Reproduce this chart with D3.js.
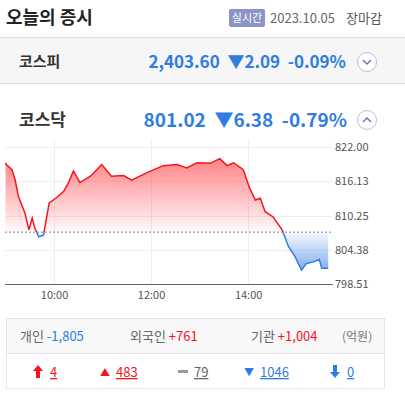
<!DOCTYPE html>
<html><head><meta charset="utf-8">
<script src="https://cdn.jsdelivr.net/npm/d3@7"></script>
<style>
body{margin:0;background:#fff;font-family:"Noto Sans CJK KR","Noto Sans",sans-serif;}
svg text{font-family:"Noto Sans CJK KR","Noto Sans",sans-serif;}
</style></head>
<body><svg id="c" width="405" height="403"></svg>
<script>
// KOSDAQ 2023.10.05 intraday
const times = ["09:00","09:01","09:08","09:12","09:16","09:24","09:29","09:33","09:36","09:41","09:47","09:54","10:03","10:12","10:18","10:24","10:32","10:45","10:59","11:11","11:26","11:36","11:55","12:15","12:32","12:44","12:57","13:13","13:25","13:34","13:42","13:54","14:02","14:09","14:15","14:21","14:31","14:42","14:50","14:58","15:06","15:12","15:21","15:28","15:31","15:39"];
const values = [819.3,819.0,818.1,816.3,813.5,810.7,807.8,809.8,808.2,806.6,806.9,812.4,813.3,814.4,815.9,817.9,815.9,817.0,819.0,817.0,817.1,816.3,817.6,818.8,819.0,818.4,819.3,819.2,820.0,818.8,819.3,818.1,814.9,812.9,813.2,810.9,810.0,807.8,804.9,803.2,800.9,802.0,802.3,802.7,801.2,801.2];
const prevClose = 807.40;
const yTicks = [822.00,816.13,810.25,804.38,798.51];
const xTicks = ["10:00","12:00","14:00"];
const investors = ["개인","외국인","기관"];
const investorVals = ["-1,805","+761","+1,004"];
const breadthVals = ["4","483","79","1046","0"];

const svg = d3.select("#c");
const parse = d3.timeParse("%H:%M");
const x = d3.scaleTime().domain([parse("09:00"), parse("15:40")]).range([5.5, 329]);
const y = d3.scaleLinear().domain([798.51, 822]).range([284, 147]);
const red = "#f5141e", blue = "#2f7de1";

// header
svg.append("text").attr("x",6).attr("y",24).attr("font-size",18).attr("font-weight",700).attr("fill","#222").text("오늘의 증시");
svg.append("rect").attr("x",229).attr("y",9).attr("width",36).attr("height",18).attr("rx",2).attr("fill","#8c93c9");
svg.append("text").attr("x",247).attr("y",22).attr("text-anchor","middle").attr("font-size",11).attr("fill","#fff").text("실시간");
svg.append("text").attr("x",270).attr("y",23).attr("font-size",13).attr("fill","#666").text("2023.10.05");
svg.append("text").attr("x",346).attr("y",23).attr("font-size",13).attr("fill","#555").text("장마감");
svg.append("line").attr("x1",0).attr("x2",405).attr("y1",37.5).attr("y2",37.5).attr("stroke","#ddd");

// KOSPI row
svg.append("rect").attr("x",0).attr("y",38).attr("width",405).attr("height",45).attr("fill","#f6f6f6");
svg.append("line").attr("x1",0).attr("x2",405).attr("y1",83.5).attr("y2",83.5).attr("stroke","#ddd");
svg.append("text").attr("x",19).attr("y",67).attr("font-size",15).attr("font-weight",700).attr("fill","#333").text("코스피");
svg.append("text").attr("x",346).attr("y",68).attr("text-anchor","end").attr("font-size",17).attr("font-weight",700).attr("fill",blue)
  .text("2,403.60  ▼2.09  -0.09%").attr("xml:space","preserve").style("white-space","pre");
svg.append("circle").attr("cx",367).attr("cy",62).attr("r",9.5).attr("fill","#fff").attr("stroke","#b8bfe0");
svg.append("path").attr("d","M363 60 L367 64 L371 60").attr("fill","none").attr("stroke","#6a74b8").attr("stroke-width",1.5);

// KOSDAQ row
svg.append("text").attr("x",19).attr("y",126).attr("font-size",17).attr("font-weight",700).attr("fill","#333").text("코스닥");
svg.append("text").attr("x",347).attr("y",127).attr("text-anchor","end").attr("font-size",19).attr("font-weight",700).attr("fill",blue)
  .text("801.02  ▼6.38  -0.79%").style("white-space","pre");
svg.append("circle").attr("cx",367).attr("cy",120).attr("r",9.5).attr("fill","#fff").attr("stroke","#b8bfe0");
svg.append("path").attr("d","M363 122 L367 118 L371 122").attr("fill","none").attr("stroke","#6a74b8").attr("stroke-width",1.5);

// grid
const g = svg.append("g");
g.selectAll(".hg").data(yTicks).join("line").attr("x1",5).attr("x2",332).attr("y1",d=>Math.round(y(d))+0.5).attr("y2",d=>Math.round(y(d))+0.5).attr("stroke","#eee");
g.selectAll(".vg").data(xTicks).join("line").attr("x1",d=>Math.round(x(parse(d)))+0.5).attr("x2",d=>Math.round(x(parse(d)))+0.5).attr("y1",140).attr("y2",284).attr("stroke","#eee");

const defs = svg.append("defs");
const gr = defs.append("linearGradient").attr("id","gr").attr("x1",0).attr("x2",0).attr("y1",0).attr("y2",1).attr("gradientUnits","userSpaceOnUse")
  .attr("y1",y(820)).attr("y2",y(prevClose));
gr.append("stop").attr("offset",0).attr("stop-color","#ff5a5f").attr("stop-opacity",0.75);
gr.append("stop").attr("offset",1).attr("stop-color","#ff5a5f").attr("stop-opacity",0.03);
const gb = defs.append("linearGradient").attr("id","gb").attr("x1",0).attr("x2",0).attr("gradientUnits","userSpaceOnUse")
  .attr("y1",y(prevClose)).attr("y2",y(800.9));
gb.append("stop").attr("offset",0).attr("stop-color","#4a8be6").attr("stop-opacity",0.05);
gb.append("stop").attr("offset",1).attr("stop-color","#4a8be6").attr("stop-opacity",0.7);
defs.append("clipPath").attr("id","up").append("rect").attr("x",0).attr("y",0).attr("width",405).attr("height",y(prevClose));
defs.append("clipPath").attr("id","dn").append("rect").attr("x",0).attr("y",y(prevClose)).attr("width",405).attr("height",200);

const data = times.map((t,i)=>({t:parse(t),v:values[i]}));
const area = d3.area().x(d=>x(d.t)).y0(y(prevClose)).y1(d=>y(d.v));
const line = d3.line().x(d=>x(d.t)).y(d=>y(d.v));
g.append("path").datum(data).attr("d",area).attr("fill","url(#gr)").attr("clip-path","url(#up)");
g.append("path").datum(data).attr("d",area).attr("fill","url(#gb)").attr("clip-path","url(#dn)");
g.append("line").attr("x1",5).attr("x2",332).attr("y1",y(prevClose)).attr("y2",y(prevClose)).attr("stroke","#888").attr("stroke-dasharray","2,2");
g.append("path").datum(data).attr("d",line).attr("fill","none").attr("stroke",red).attr("stroke-width",1.5).attr("clip-path","url(#up)");
g.append("path").datum(data).attr("d",line).attr("fill","none").attr("stroke",blue).attr("stroke-width",1.5).attr("clip-path","url(#dn)");

// axes
const yAxis = d3.axisRight(y).tickValues(yTicks).tickFormat(d3.format(".2f")).tickSize(0).tickPadding(6);
svg.append("g").attr("transform","translate(329,0)").call(yAxis)
  .call(a=>a.select(".domain").remove())
  .call(a=>a.selectAll("text").attr("font-size",11).attr("fill","#555"));
const xAxis = d3.axisBottom(x).tickValues(xTicks.map(parse)).tickFormat(d3.timeFormat("%H:%M")).tickSize(0).tickPadding(7);
svg.append("g").attr("transform","translate(0,284)").call(xAxis)
  .call(a=>a.select(".domain").attr("d","M5,0.5H333").attr("stroke","#666"))
  .call(a=>a.selectAll("text").attr("font-size",11).attr("fill","#555"));

// investor table
svg.append("rect").attr("x",6.5).attr("y",318.5).attr("width",378).attr("height",70).attr("fill","#fff").attr("stroke","#e5e5e5");
svg.append("rect").attr("x",7).attr("y",319).attr("width",377).attr("height",34).attr("fill","#f8f8f8");
svg.append("line").attr("x1",7).attr("x2",385).attr("y1",353.5).attr("y2",353.5).attr("stroke","#e5e5e5");
const invX = [20,130,251];
investors.forEach((n,i)=>{
  const t = svg.append("text").attr("x",invX[i]).attr("y",341).attr("font-size",13);
  t.append("tspan").attr("fill","#666").text(n+" ");
  t.append("tspan").attr("fill",investorVals[i][0]==="-"?blue:red).text(investorVals[i]);
});
svg.append("text").attr("x",342).attr("y",341).attr("font-size",12).attr("fill","#777").text("(억원)");

const icons = [{s:"🡅",c:red,x:34},{s:"▲",c:red,x:100},{s:"━",c:"#999",x:178},{s:"▼",c:blue,x:244},{s:"🡇",c:blue,x:331}];
breadthVals.forEach((v,i)=>{
  const ic = icons[i];
  if(i===0||i===4){
    const up = i===0, cx = ic.x+4;
    svg.append("path").attr("d",up?`M${cx} 365 L${cx+5} 371 L${cx+2} 371 L${cx+2} 378 L${cx-2} 378 L${cx-2} 371 L${cx-5} 371Z`
      :`M${cx} 378 L${cx+5} 372 L${cx+2} 372 L${cx+2} 365 L${cx-2} 365 L${cx-2} 372 L${cx-5} 372Z`).attr("fill",ic.c);
  } else if(i===2){
    svg.append("rect").attr("x",ic.x).attr("y",370).attr("width",10).attr("height",3).attr("fill","#999");
  } else {
    svg.append("text").attr("x",ic.x).attr("y",376).attr("font-size",10).attr("fill",ic.c).text(ic.s);
  }
  const col = i<2?red:(i===2?"#666":blue);
  svg.append("text").attr("x",ic.x+16).attr("y",377).attr("font-size",13).attr("fill",col).attr("text-decoration","underline").text(v);
});
</script></body></html>
